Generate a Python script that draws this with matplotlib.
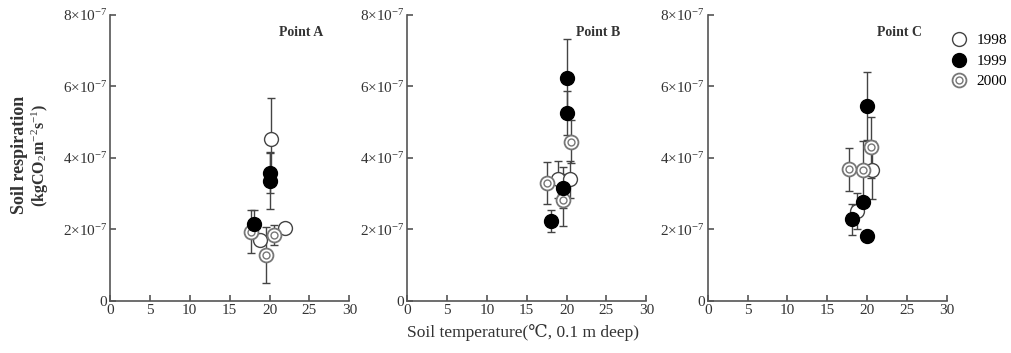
import numpy as np
import matplotlib
matplotlib.use("Agg")
import matplotlib.pyplot as plt
from matplotlib.lines import Line2D

plt.rcParams["font.family"] = ["Liberation Serif", "DejaVu Serif"]
plt.rcParams["mathtext.fontset"] = "custom"
plt.rcParams["mathtext.rm"] = "Liberation Serif"
plt.rcParams["mathtext.it"] = "Liberation Serif:italic"
plt.rcParams["mathtext.bf"] = "Liberation Serif:bold"

# values in units of 1e-7 kg CO2 m-2 s-1
a98_x = [20.2, 18.75, 21.9]
a98_y = [4.52, 1.70, 2.03]
a98_e = [1.16, 0.0, 0.0]
a99_x = [20.0, 20.0, 18.0]
a99_y = [3.59, 3.35, 2.15]
a99_e = [0.56, 0.79, 0.39]
a00_x = [17.7, 19.6, 20.5]
a00_y = [1.94, 1.28, 1.84]
a00_e = [0.60, 0.79, 0.27]

b98_x = [18.9, 20.4]
b98_y = [3.40, 3.40]
b98_e = [0.51, 0.52]
b99_x = [20.0, 20.0, 19.5, 18.0]
b99_y = [6.22, 5.26, 3.17, 2.24]
b99_e = [1.09, 0.62, 0.57, 0.30]
b00_x = [20.5, 17.6, 19.5]
b00_y = [4.45, 3.30, 2.82]
b00_e = [0.60, 0.58, 0.72]

c98_x = [20.6, 18.75]
c98_y = [3.66, 2.51]
c98_e = [0.80, 0.50]
c99_x = [20.0, 19.5, 18.05, 20.0]
c99_y = [5.45, 2.77, 2.28, 1.82]
c99_e = [0.96, 0.0, 0.44, 0.0]
c00_x = [20.5, 19.5, 17.7]
c00_y = [4.29, 3.66, 3.68]
c00_e = [0.86, 0.80, 0.60]

panels = [
    ("Point A", (a98_x, a98_y, a98_e), (a99_x, a99_y, a99_e), (a00_x, a00_y, a00_e)),
    ("Point B", (b98_x, b98_y, b98_e), (b99_x, b99_y, b99_e), (b00_x, b00_y, b00_e)),
    ("Point C", (c98_x, c98_y, c98_e), (c99_x, c99_y, c99_e), (c00_x, c00_y, c00_e)),
]

ytick_labels = ["0", r"2$\times$10$^{-7}$", r"4$\times$10$^{-7}$",
                r"6$\times$10$^{-7}$", r"8$\times$10$^{-7}$"]

axcol = "#555555"
ecol = "#444444"
txtcol = "#333333"
lefts = [0.1087, 0.4022, 0.6993]

fig = plt.figure(figsize=(10.12, 3.53), dpi=100)

for left, (title, s98, s99, s00) in zip(lefts, panels):
    ax = fig.add_axes([left, 0.1473, 0.2365, 0.811])
    for (x, y, e) in (s98, s99, s00):
        ax.errorbar(x, y, yerr=e, fmt="none", ecolor=ecol, elinewidth=1.0,
                    capsize=3, capthick=1.0, zorder=2)
    ax.plot(s98[0], s98[1], "o", ms=10, mfc="white", mec="#444444", mew=1.0, zorder=3)
    ax.plot(s00[0], s00[1], "o", ms=10, mfc="white", mec="#777777", mew=1.3, zorder=3)
    ax.plot(s00[0], s00[1], "o", ms=5, mfc="white", mec="#777777", mew=1.0, zorder=4)
    ax.plot(s99[0], s99[1], "o", ms=10, mfc="black", mec="black", mew=1.0, zorder=5)

    ax.set_xlim(0, 30)
    ax.set_ylim(0, 8)
    ax.set_xticks(np.arange(0, 31, 5))
    ax.set_yticks([0, 2, 4, 6, 8])
    ax.set_yticklabels(ytick_labels)
    ax.spines["top"].set_visible(False)
    ax.spines["right"].set_visible(False)
    for sp in ("left", "bottom"):
        ax.spines[sp].set_color(axcol)
        ax.spines[sp].set_linewidth(1.2)
    ax.tick_params(direction="in", length=4, width=1.2, color=axcol,
                   labelsize=11, labelcolor=txtcol, pad=2)
    ax.text(24, 7.5, title, fontsize=10, fontweight="bold", color=txtcol,
            ha="center", va="center")

fig.text(0.019, 0.56, "Soil respiration", rotation=90, fontsize=13,
         fontweight="bold", color=txtcol, ha="center", va="center")
fig.text(0.040, 0.56, r"(kgCO$_2$m$^{-2}$s$^{-1}$)", rotation=90, fontsize=11.5,
         fontweight="bold", color=txtcol, ha="center", va="center")
fig.text(0.517, 0.058, "Soil temperature(\u2103, 0.1 m deep)", fontsize=12.5,
         color=txtcol, ha="center", va="center")

h98 = Line2D([], [], ls="none", marker="o", ms=10, mfc="white", mec="#444444")
h99 = Line2D([], [], ls="none", marker="o", ms=10, mfc="black", mec="black")
h00a = Line2D([], [], ls="none", marker="o", ms=10, mfc="white", mec="#777777", mew=1.3)
h00b = Line2D([], [], ls="none", marker="o", ms=5, mfc="white", mec="#777777")
fig.legend([h98, h99, (h00a, h00b)], ["1998", "1999", "2000"],
           loc="upper left", bbox_to_anchor=(0.93, 0.935), frameon=False,
           fontsize=11, handlelength=1.0, handletextpad=0.6, labelspacing=0.45,
           borderpad=0.2)

fig.savefig("out.png", dpi=100)
